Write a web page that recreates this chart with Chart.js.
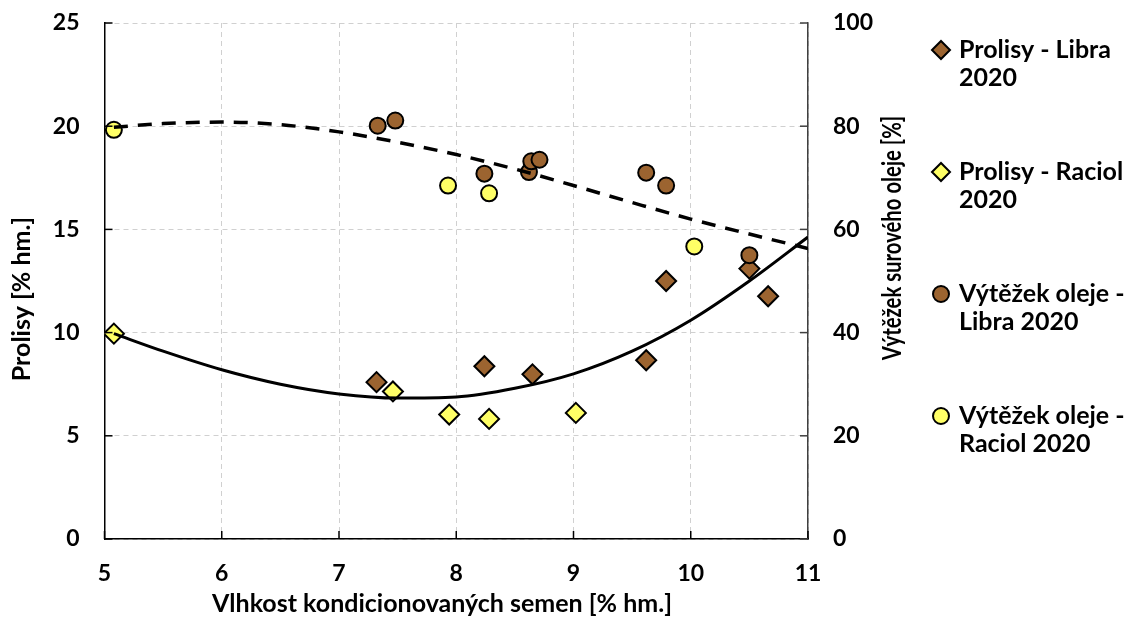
<!DOCTYPE html>
<html>
<head>
<meta charset="utf-8">
<script src="https://cdn.jsdelivr.net/npm/chart.js@4.4.1/dist/chart.umd.min.js"></script>
<style>
  html, body { margin: 0; padding: 0; background: #fff; }
  #wrap { position: relative; width: 1125px; height: 619px; }
</style>
</head>
<body>
<div id="wrap"><canvas id="chart"></canvas></div>
<script>
// Prolisy (left axis) - diamonds
const prolisyLibraX = [7.32, 8.24, 8.65, 9.62, 9.79, 10.50, 10.66];
const prolisyLibra = [7.6, 8.37, 7.98, 8.66, 12.5, 13.1, 11.76];
const prolisyRaciolX = [5.08, 7.46, 7.94, 8.28, 9.02];
const prolisyRaciol = [9.95, 7.15, 6.03, 5.82, 6.11];

// Výtěžek oleje (right axis) - circles
const vytezekLibraX = [7.33, 7.48, 8.24, 8.62, 8.64, 8.71, 9.62, 9.79, 10.50];
const vytezekLibra = [80.1, 81.1, 70.8, 71.1, 73.2, 73.5, 71.0, 68.5, 55.0];
const vytezekRaciolX = [5.08, 7.93, 8.28, 10.03];
const vytezekRaciol = [79.3, 68.5, 67.0, 56.7];

// trend curves (polynomial trendlines), sampled along x
const trendX = [5.08, 5.5, 6, 6.5, 7, 7.5, 8, 8.5, 9, 9.5, 10, 10.5, 11];
const trendProlisy = [9.95, 9.1, 8.2, 7.5, 7.03, 6.83, 6.88, 7.3, 8.0, 9.1, 10.6, 12.5, 14.63];
const trendVytezek = [79.8, 80.5, 80.8, 80.3, 78.9, 76.9, 74.5, 71.7, 68.5, 65.2, 62.0, 59.1, 56.3];

const xTicks = [5, 6, 7, 8, 9, 10, 11];
const legendLines = [
    ['Prolisy - Libra', '2020'],
    ['Prolisy - Raciol', '2020'],
    ['Výtěžek oleje -', 'Libra 2020'],
    ['Výtěžek oleje -', 'Raciol 2020']
];

const BROWN = '#9c6430';
const YELLOW = '#ffff66';
const FONT = 'Lato, "Open Sans", sans-serif';
const tickFont = { family: FONT, size: 23, weight: 'bold' };

const pts = (xs, ys) => xs.map((x, i) => ({ x: x, y: ys[i] }));

// inner tick marks on the axes
const innerTicks = {
    id: 'innerTicks',
    afterDraw(chart) {
        const ctx = chart.ctx;
        const a = chart.chartArea;
        const { x, y, y2 } = chart.scales;
        ctx.save();
        ctx.lineWidth = 1.5;
        ctx.strokeStyle = '#000';
        y.ticks.forEach(t => {
            const py = y.getPixelForValue(t.value);
            ctx.beginPath(); ctx.moveTo(a.left, py); ctx.lineTo(a.left + 8, py); ctx.stroke();
        });
        xTicks.forEach(v => {
            const px = x.getPixelForValue(v);
            ctx.beginPath(); ctx.moveTo(px, a.bottom); ctx.lineTo(px, a.bottom - 8); ctx.stroke();
        });
        ctx.strokeStyle = '#404040';
        y2.ticks.forEach(t => {
            const py = y2.getPixelForValue(t.value);
            ctx.beginPath(); ctx.moveTo(a.right, py); ctx.lineTo(a.right - 8, py); ctx.stroke();
        });
        ctx.restore();
    }
};

function rotatedText(ctx, text, x, y, squeeze) {
    ctx.save();
    ctx.translate(x, y);
    ctx.rotate(-Math.PI / 2);
    ctx.scale(squeeze || 1, 1);
    ctx.fillText(text, 0, 0);
    ctx.restore();
}

// axis titles and the legend
const sideText = {
    id: 'sideText',
    afterDraw(chart) {
        const ctx = chart.ctx;
        ctx.save();
        ctx.fillStyle = '#000';
        ctx.textAlign = 'center';
        ctx.textBaseline = 'middle';
        ctx.font = 'bold 25px ' + FONT;
        ctx.fillText('Vlhkost kondicionovaných semen [% hm.]', 442, 604);
        rotatedText(ctx, 'Prolisy [% hm.]', 22, 299);
        ctx.font = 'bold 26px ' + FONT;
        rotatedText(ctx, 'Výtěžek surového oleje [%]', 893, 238, 0.78);
        ctx.restore();

        const rows = [50, 172, 294, 416];
        chart.data.datasets.filter(d => d.legendIndex !== undefined).forEach(ds => {
            const i = ds.legendIndex;
            const cy = rows[i];
            ctx.save();
            ctx.fillStyle = ds.backgroundColor;
            ctx.strokeStyle = '#000';
            ctx.lineWidth = 2;
            ctx.beginPath();
            if (ds.pointStyle === 'circle') {
                ctx.arc(941, cy, 8, 0, Math.PI * 2);
            } else {
                ctx.moveTo(932, cy); ctx.lineTo(941, cy - 9); ctx.lineTo(950, cy); ctx.lineTo(941, cy + 9);
                ctx.closePath();
            }
            ctx.fill(); ctx.stroke();
            ctx.fillStyle = '#000';
            ctx.font = 'bold 25px ' + FONT;
            ctx.textAlign = 'left';
            ctx.textBaseline = 'middle';
            legendLines[i].forEach((line, k) => ctx.fillText(line, 959, cy + k * 28));
            ctx.restore();
        });
    }
};

// keep the tick label overflow from pushing the plot area down
const noScalePad = s => { s.paddingTop = 0; s.paddingBottom = 0; };

new Chart(document.getElementById('chart'), {
    type: 'scatter',
    data: {
        datasets: [
            {
                type: 'line',
                label: 'Trend prolisy',
                data: pts(trendX, trendProlisy),
                yAxisID: 'y',
                borderColor: '#000',
                borderWidth: 3,
                pointRadius: 0,
                cubicInterpolationMode: 'monotone',
                order: 0
            },
            {
                type: 'line',
                label: 'Trend výtěžek',
                data: pts(trendX, trendVytezek),
                yAxisID: 'y2',
                borderColor: '#000',
                borderWidth: 3.5,
                borderDash: [14, 10],
                pointRadius: 0,
                cubicInterpolationMode: 'monotone',
                order: 0
            },
            {
                label: 'Výtěžek oleje - Raciol 2020',
                data: pts(vytezekRaciolX, vytezekRaciol),
                yAxisID: 'y2',
                pointStyle: 'circle',
                pointRadius: 8,
                backgroundColor: YELLOW,
                borderColor: '#000',
                borderWidth: 2,
                legendIndex: 3,
                order: 1
            },
            {
                label: 'Výtěžek oleje - Libra 2020',
                data: pts(vytezekLibraX, vytezekLibra),
                yAxisID: 'y2',
                pointStyle: 'circle',
                pointRadius: 8,
                backgroundColor: BROWN,
                borderColor: '#000',
                borderWidth: 2,
                legendIndex: 2,
                order: 2
            },
            {
                label: 'Prolisy - Raciol 2020',
                data: pts(prolisyRaciolX, prolisyRaciol),
                yAxisID: 'y',
                pointStyle: 'rectRot',
                pointRadius: 10,
                backgroundColor: YELLOW,
                borderColor: '#000',
                borderWidth: 2,
                legendIndex: 1,
                order: 3
            },
            {
                label: 'Prolisy - Libra 2020',
                data: pts(prolisyLibraX, prolisyLibra),
                yAxisID: 'y',
                pointStyle: 'rectRot',
                pointRadius: 10,
                backgroundColor: BROWN,
                borderColor: '#000',
                borderWidth: 2,
                legendIndex: 0,
                order: 4
            }
        ]
    },
    options: {
        responsive: true,
        maintainAspectRatio: false,
        animation: false,
        layout: { padding: { left: 0, right: 217, top: 23, bottom: 0 } },
        plugins: {
            legend: { display: false },
            tooltip: { enabled: false }
        },
        scales: {
            x: {
                type: 'linear',
                min: 5,
                max: 11,
                afterBuildTicks: s => { s.ticks = xTicks.map(v => ({ value: v })); },
                afterFit: s => { s.height = 80; },
                grid: { color: '#d0d0d0', lineWidth: 1, drawTicks: false },
                border: { color: '#000', width: 1.5, dash: [5, 4] },
                ticks: { padding: 21, color: '#000', font: tickFont }
            },
            y: {
                position: 'left',
                min: 0,
                max: 25,
                ticks: { stepSize: 5, padding: 25, color: '#000', font: tickFont },
                afterFit: s => { s.width = 104.5; noScalePad(s); },
                grid: { color: '#d0d0d0', lineWidth: 1, drawTicks: false },
                border: { color: '#000', width: 1.5, dash: [5, 4] }
            },
            y2: {
                position: 'right',
                min: 0,
                max: 100,
                ticks: { stepSize: 20, padding: 25, color: '#000', font: tickFont },
                afterFit: s => { s.width = 100; noScalePad(s); },
                grid: { display: false, drawTicks: false },
                border: { color: '#404040', width: 1.5 }
            }
        }
    },
    plugins: [innerTicks, sideText]
});
</script>
</body>
</html>
